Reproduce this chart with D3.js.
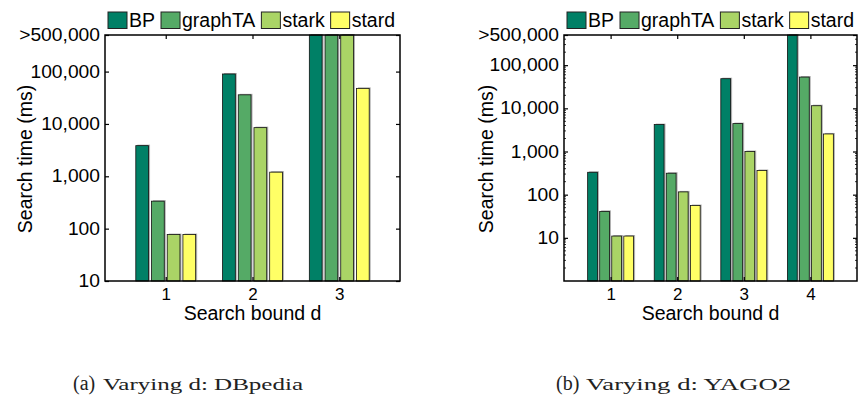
<!DOCTYPE html>
<html>
<head>
<meta charset="utf-8">
<script src="https://cdn.jsdelivr.net/npm/d3@7"></script>
<style>
  body { margin: 0; background: #fff; }
  svg { display: block; }
</style>
</head>
<body>
<div id="chart"></div>
<script>
// series shared by both panels
var seriesNames = ['BP', 'graphTA', 'stark', 'stard'];
var seriesColors = ['#008066', '#55aa66', '#aad466', '#ffff66'];

// (a) DBpedia, search time in ms (500,000 = capped ">500,000")
var dbpediaBounds = [1, 2, 3];
var dbpediaBP = [3850, 90000, 500000];
var dbpediaGraphTA = [335, 36000, 500000];
var dbpediaStark = [77, 8500, 500000];
var dbpediaStard = [77, 1200, 47800];
var dbpediaTicks = [10, 100, 1000, 10000, 100000, 500000];

// (b) YAGO2
var yagoBounds = [1, 2, 3, 4];
var yagoBP = [330, 4200, 48600, 500000];
var yagoGraphTA = [41, 314, 4430, 53000];
var yagoStark = [11, 116, 1000, 11500];
var yagoStard = [11, 56, 363, 2550];
var yagoTicks = [10, 100, 1000, 10000, 100000, 500000];

var captionA = ['(a)', 'Varying d: DBpedia'];
var captionB = ['(b)', 'Varying d: YAGO2'];

(function() {

  init();

  function init() {
    var width = 859;
    var height = 406;

    var svg = d3.select('#chart')
      .append('svg')
      .attr('width', width)
      .attr('height', height)
      .style('font-family', '"Liberation Sans", Arial, sans-serif');

    drawPanel(svg, {
      left: 105, right: 400, top: 35, bottom: 281,
      xDomain: [0.3, 3.7], yDomain: [10, 500000],
      bounds: dbpediaBounds,
      series: [dbpediaBP, dbpediaGraphTA, dbpediaStark, dbpediaStard],
      ticks: dbpediaTicks, minor: false,
      ylabelX: 32
    });

    drawPanel(svg, {
      left: 564, right: 857, top: 35, bottom: 281,
      xDomain: [0.3, 4.7], yDomain: [1, 500000],
      bounds: yagoBounds,
      series: [yagoBP, yagoGraphTA, yagoStark, yagoStard],
      ticks: yagoTicks, minor: true,
      ylabelX: 493
    });

    drawCaption(svg, captionA, 73, 103, 200);
    drawCaption(svg, captionB, 556, 586, 205);
  }

  function tickFormat(v) {
    return v >= 500000 ? '>500,000' : d3.format(',')(v);
  }

  function drawPanel(svg, opt) {
    var x = d3.scaleLinear().domain(opt.xDomain).range([opt.left, opt.right]);
    var y = d3.scaleLog().domain(opt.yDomain).range([opt.bottom, opt.top]);
    var step = 0.181, barW = 0.147;

    var g = svg.append('g');

    // bars, one group per series
    opt.series.forEach(function(vals, i) {
      var rows = opt.bounds.map(function(b, j) { return {b: b, v: vals[j]}; });
      var off = (i - 1.5) * step;
      var xl = function(d) { return x(d.b + off - barW / 2); };
      var w = x(barW) - x(0);

      // soft grey shadow like the original
      g.selectAll(null)
        .data(rows)
        .enter()
        .append('rect')
        .attr('x', function(d) { return xl(d) + 1.5; })
        .attr('y', function(d) { return y(d.v) - 1; })
        .attr('width', w)
        .attr('height', function(d) { return opt.bottom - y(d.v); })
        .attr('fill', '#b0b0b0');

      g.selectAll(null)
        .data(rows)
        .enter()
        .append('rect')
        .attr('x', xl)
        .attr('y', function(d) { return y(d.v); })
        .attr('width', w)
        .attr('height', function(d) { return opt.bottom - y(d.v); })
        .attr('fill', seriesColors[i])
        .attr('stroke', '#111')
        .attr('stroke-width', 0.8);
    });

    // y axis with labels
    var yAxis = g.append('g')
      .attr('transform', 'translate(' + opt.left + ',0)')
      .call(d3.axisLeft(y).tickValues(opt.ticks).tickSize(-4).tickSizeOuter(0)
        .tickPadding(5).tickFormat(tickFormat));
    styleAxis(yAxis);
    yAxis.selectAll('text').each(function() {
      var len = this.getComputedTextLength();
      d3.select(this).attr('textLength', len * 1.1).attr('lengthAdjust', 'spacingAndGlyphs');
    });

    // mirrored ticks on the right
    var yAxisR = g.append('g')
      .attr('transform', 'translate(' + opt.right + ',0)')
      .call(d3.axisRight(y).tickValues(opt.ticks).tickSize(-4).tickSizeOuter(0).tickFormat(''));
    styleAxis(yAxisR);

    if (opt.minor) {
      var minorTicks = [];
      d3.range(0, 6).forEach(function(k) {
        d3.range(2, 10).forEach(function(m) {
          var v = m * Math.pow(10, k);
          if (v < 500000) minorTicks.push(v);
        });
      });
      [[opt.left, 1], [opt.right, -1]].forEach(function(side) {
        g.selectAll(null)
          .data(minorTicks)
          .enter()
          .append('line')
          .attr('x1', side[0])
          .attr('x2', side[0] + side[1] * 2)
          .attr('y1', function(d) { return y(d); })
          .attr('y2', function(d) { return y(d); })
          .attr('stroke', '#000')
          .attr('stroke-width', 0.8);
      });
    }

    // x axis
    var xAxis = g.append('g')
      .attr('transform', 'translate(0,' + opt.bottom + ')')
      .call(d3.axisBottom(x).tickValues(opt.bounds).tickSize(-4).tickSizeOuter(0)
        .tickPadding(7).tickFormat(d3.format('d')));
    styleAxis(xAxis);
    xAxis.selectAll('text').style('font-size', '17px');

    var xAxisT = g.append('g')
      .attr('transform', 'translate(0,' + opt.top + ')')
      .call(d3.axisTop(x).tickValues(opt.bounds).tickSize(-4).tickSizeOuter(0).tickFormat(''));
    styleAxis(xAxisT);

    // plot box
    g.append('rect')
      .attr('x', opt.left)
      .attr('y', opt.top)
      .attr('width', opt.right - opt.left)
      .attr('height', opt.bottom - opt.top)
      .attr('fill', 'none')
      .attr('stroke', '#000')
      .attr('stroke-width', 1.5);

    // axis titles
    g.append('text')
      .attr('x', (opt.left + opt.right) / 2)
      .attr('y', 320)
      .attr('text-anchor', 'middle')
      .style('font-size', '19.5px')
      .text('Search bound d');

    g.append('text')
      .attr('transform', 'translate(' + opt.ylabelX + ',' + ((opt.top + opt.bottom) / 2 + 1) + ') rotate(-90)')
      .attr('text-anchor', 'middle')
      .style('font-size', '19.5px')
      .text('Search time (ms)');

    // legend above the plot
    var lx = opt.left + 3;
    seriesNames.forEach(function(name, i) {
      g.append('rect')
        .attr('x', lx)
        .attr('y', 12)
        .attr('width', 19)
        .attr('height', 16.5)
        .attr('fill', seriesColors[i])
        .attr('stroke', '#222')
        .attr('stroke-width', 1);
      var t = g.append('text')
        .attr('x', lx + 21)
        .attr('y', 27)
        .style('font-size', '19.5px')
        .text(name);
      lx = lx + 21 + t.node().getComputedTextLength() + 6;
    });
  }

  function styleAxis(a) {
    a.select('.domain').remove();
    a.selectAll('line').attr('stroke', '#000').attr('stroke-width', 1.2);
    a.selectAll('text')
      .attr('fill', '#000')
      .style('font-size', '17.5px')
      .style('font-family', '"Liberation Sans", Arial, sans-serif');
  }

  function drawCaption(svg, parts, x0, x1, len) {
    var c = svg.append('g').style('font-family', '"Liberation Serif", "DejaVu Serif", serif').attr('fill', '#222');
    c.append('text')
      .attr('x', x0)
      .attr('y', 390)
      .style('font-size', '20px')
      .text(parts[0]);
    c.append('text')
      .attr('x', x1)
      .attr('y', 390)
      .attr('textLength', len)
      .attr('lengthAdjust', 'spacingAndGlyphs')
      .style('font-size', '17px')
      .text(parts[1]);
  }

})();
</script>
</body>
</html>
